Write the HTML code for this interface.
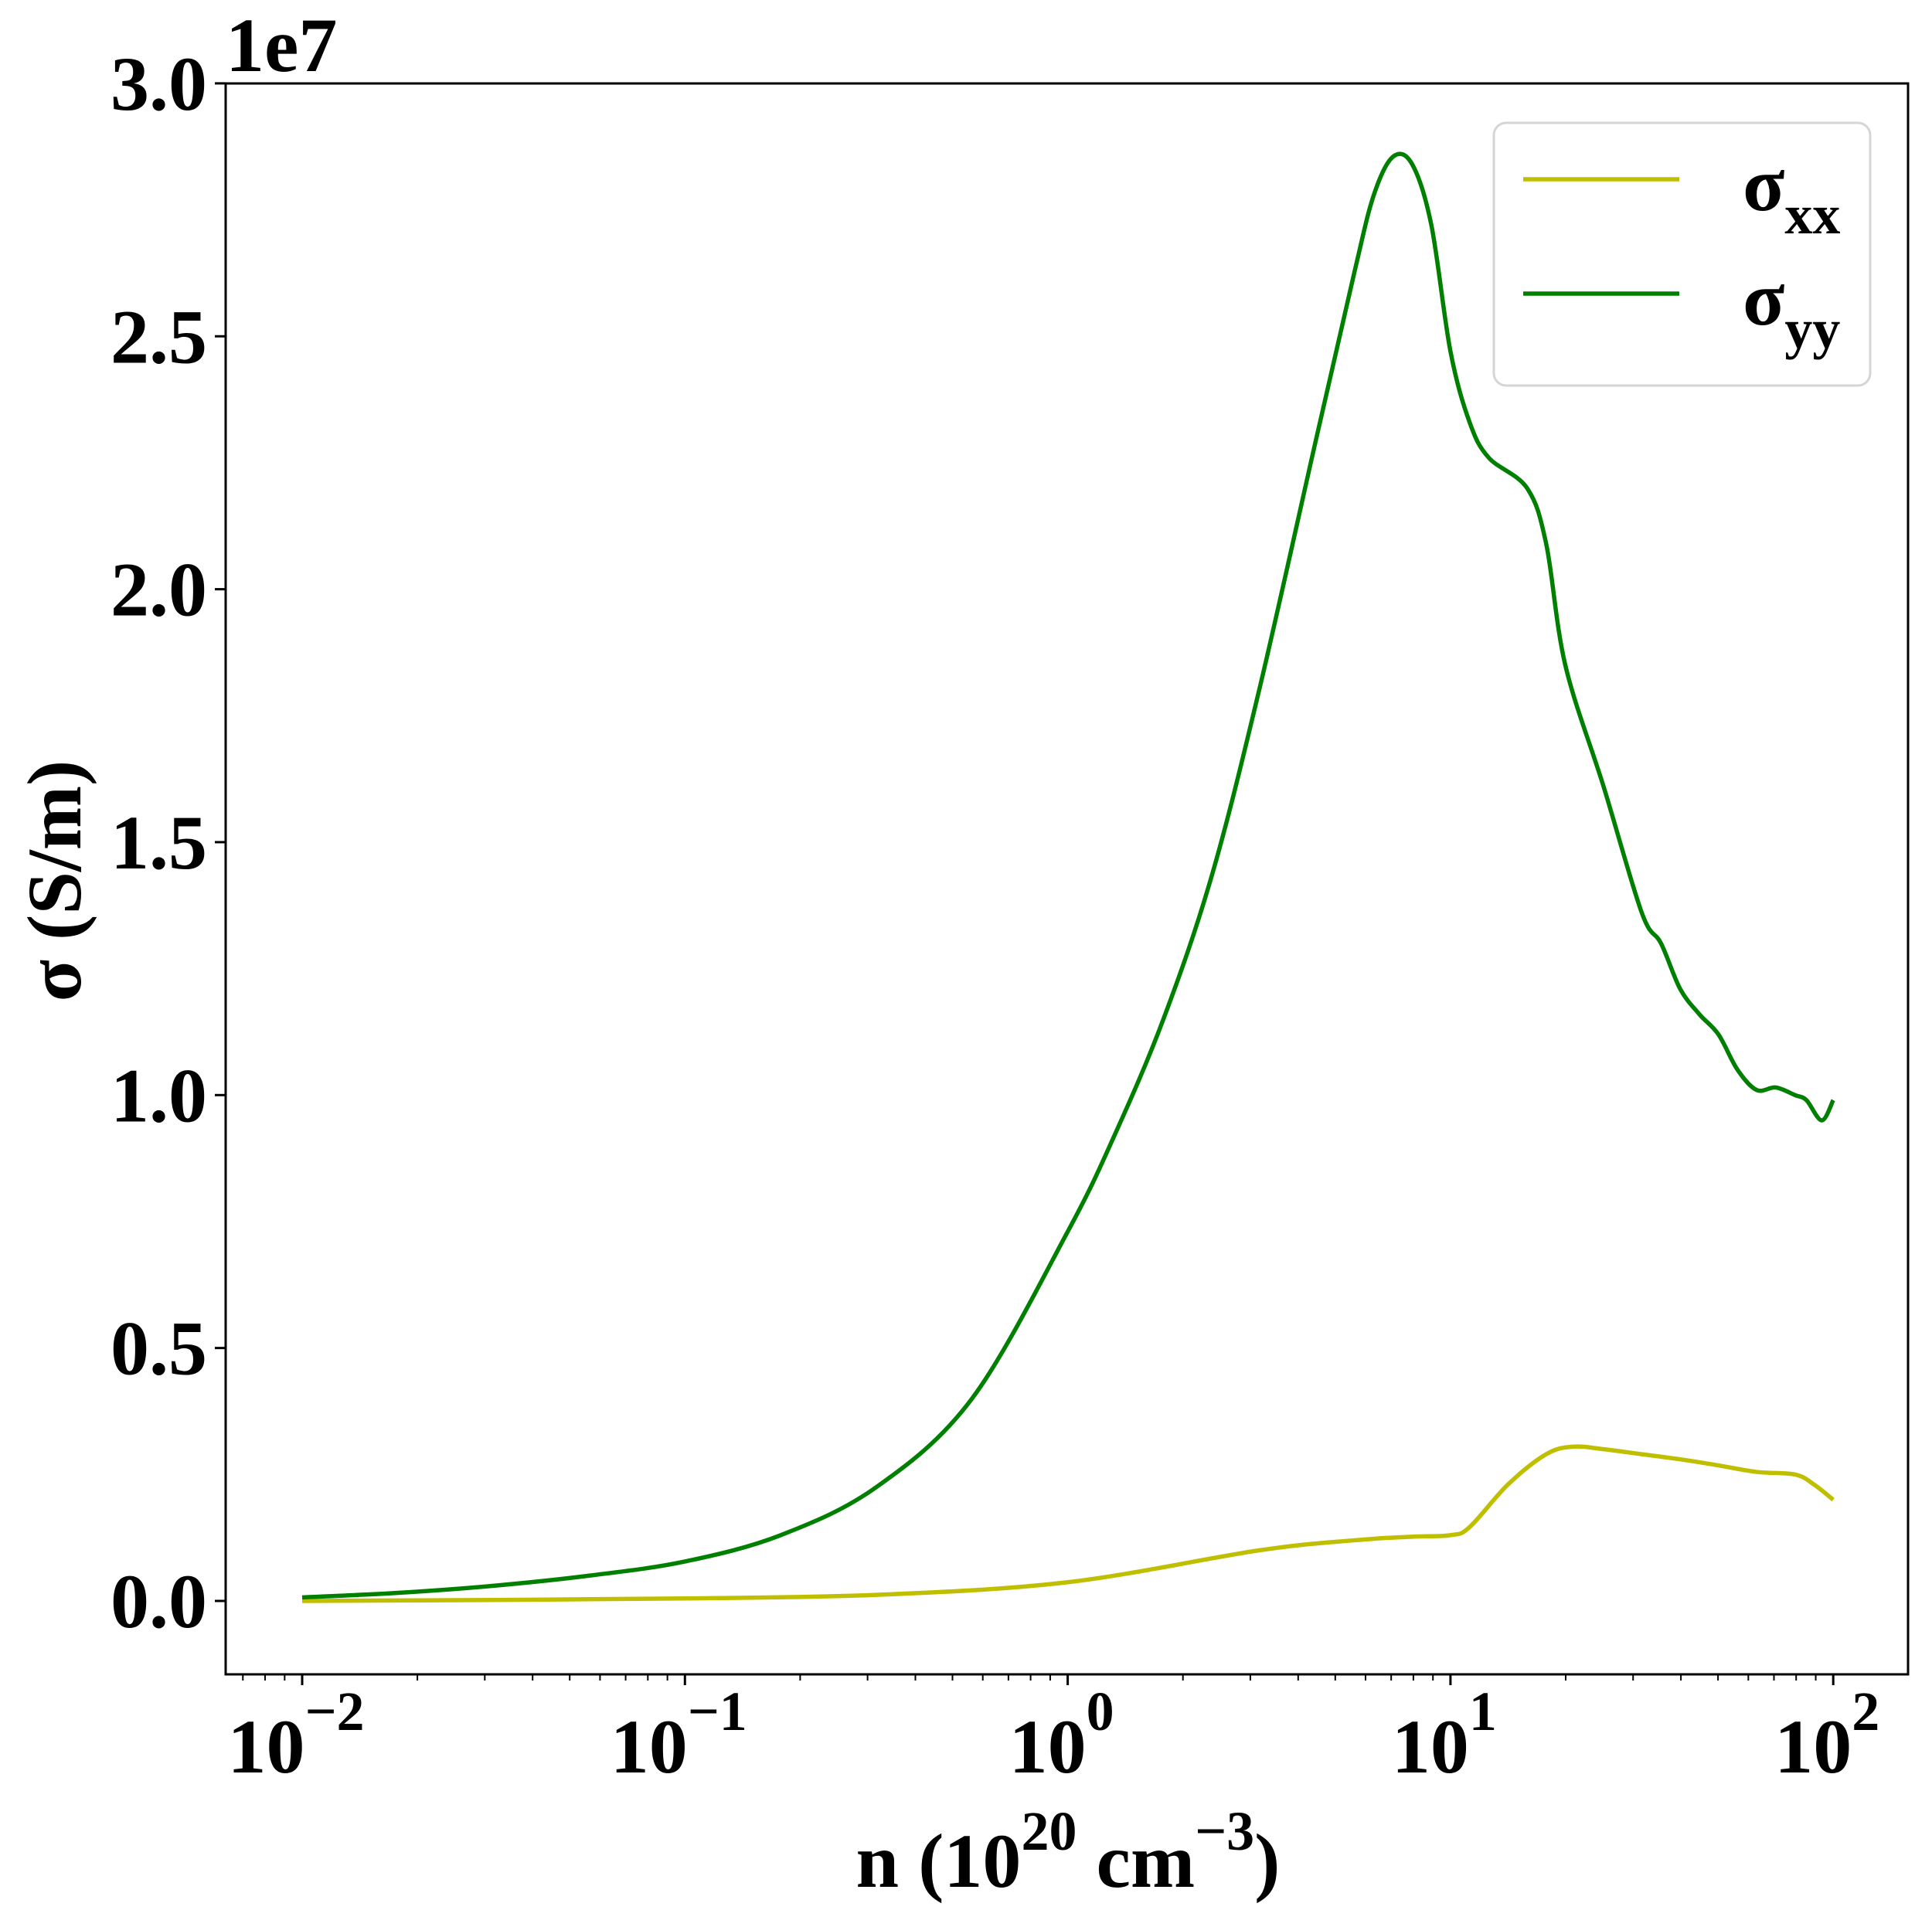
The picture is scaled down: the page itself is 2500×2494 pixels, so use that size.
<!DOCTYPE html>
<html><head><meta charset="utf-8"><style>
html,body{margin:0;padding:0;background:#fff;}
svg text{font-family:"Liberation Serif",serif;font-weight:bold;fill:#000;}
</style></head><body>
<svg id="chart" width="2500" height="2489" viewBox="0 0 2500 2489" xmlns="http://www.w3.org/2000/svg">
<g id="plot"></g>
</svg>
<script>
const logN = [-2,-1.75,-1.5,-1.25,-1,-0.75,-0.5,-0.25,0,0.125,0.25,0.375,0.5,0.65,0.75,0.8,0.85,0.9,0.95,1.0,1.05,1.1,1.2,1.25,1.3,1.4,1.5,1.55,1.6,1.65,1.7,1.75,1.8,1.85,1.9,1.93,1.97,2.0];
const sigmaYY = [0.007,0.016,0.03,0.05,0.078,0.13,0.225,0.40,0.73,0.925,1.15,1.43,1.80,2.30,2.63,2.78,2.855,2.84,2.72,2.47,2.33,2.26,2.20,2.09,1.85,1.61,1.36,1.30,1.21,1.16,1.12,1.05,1.01,1.015,1.0,0.99,0.95,0.99];
const logNxx = [-2,-1.5,-1,-0.5,0,0.5,0.75,0.9,1.0,1.05,1.15,1.25,1.32,1.4,1.5,1.6,1.7,1.8,1.9,1.95,2.0];
const sigmaXX = [0.0,0.002,0.005,0.012,0.037,0.10,0.12,0.127,0.13,0.146,0.23,0.29,0.305,0.30,0.29,0.28,0.268,0.255,0.25,0.23,0.20];
const yTicks = [0,0.5,1.0,1.5,2.0,2.5,3.0];
const yTickLabels = ["0.0","0.5","1.0","1.5","2.0","2.5","3.0"];
const xDecades = [-2,-1,0,1,2];

const L=292,R=2469,T=108,B=2167;
const X = l => 391 + (l+2)*495.3;
const Y = v => 2072 - v*654.7;
const NS="http://www.w3.org/2000/svg";
const svg=document.getElementById('chart');
function mk(tag,attrs,parent){const e=document.createElementNS(NS,tag);for(const k in attrs)e.setAttribute(k,attrs[k]);(parent||svg).appendChild(e);return e;}

function smooth(pts){let d=`M${pts[0][0]},${pts[0][1]}`;for(let i=0;i<pts.length-1;i++){const p0=pts[Math.max(0,i-1)],p1=pts[i],p2=pts[i+1],p3=pts[Math.min(pts.length-1,i+2)];const c1=[p1[0]+(p2[0]-p0[0])/6,p1[1]+(p2[1]-p0[1])/6],c2=[p2[0]-(p3[0]-p1[0])/6,p2[1]-(p3[1]-p1[1])/6];d+=` C${c1[0]},${c1[1]} ${c2[0]},${c2[1]} ${p2[0]},${p2[1]}`;}return d;}

const gx=mk('g',{});


const px=mk('path',{d:smooth(logNxx.map((l,i)=>[X(l),Y(sigmaXX[i])])),fill:'none',stroke:'#bfbf00','stroke-width':5.5,'stroke-linejoin':'round'},gx);


const gy=mk('g',{});


const py=mk('path',{d:smooth(logN.map((l,i)=>[X(l),Y(sigmaYY[i])])),fill:'none',stroke:'#008000','stroke-width':5.5,'stroke-linejoin':'round'},gy);



const frame=mk('rect',{x:L,y:T,width:R-L,height:B-T,fill:'none',stroke:'#000','stroke-width':3});



yTicks.forEach((v,i)=>{
  const t=mk('line',{x1:L-14,x2:L,y1:Y(v),y2:Y(v),stroke:'#000','stroke-width':3});
  
  
  const tx=mk('text',{x:L-24,y:Y(v)+34,'text-anchor':'end','font-size':100});
  tx.textContent=yTickLabels[i];
  
  
});
xDecades.forEach(d=>{
  const t=mk('line',{x1:X(d),x2:X(d),y1:B,y2:B+14,stroke:'#000','stroke-width':3});
  
  
  const tx=mk('text',{x:X(d)-8,y:2294,'text-anchor':'middle','font-size':100});
  tx.innerHTML=`10<tspan dy="-55" font-size="72">${d<0?'\u2212':''}${Math.abs(d)}</tspan>`;
  
  
});
for(let d=-3;d<=2;d++){for(let k=2;k<=9;k++){const l=d+Math.log10(k);const xx=X(l);if(xx<L||xx>R)continue;
  const t=mk('line',{x1:xx,x2:xx,y1:B,y2:B+8,stroke:'#000','stroke-width':2});
  
  }}

const off=mk('text',{x:292,y:92,'font-size':100});off.textContent='1e7';


const xl=mk('text',{x:1382,y:2442,'text-anchor':'middle','font-size':100});
xl.innerHTML='n (10<tspan dy="-48" font-size="72">20</tspan><tspan dy="48"> cm</tspan><tspan dy="-48" font-size="72">\u22123</tspan><tspan dy="48">)</tspan>';


const yl=mk('text',{x:0,y:0,'text-anchor':'middle','font-size':100,transform:'translate(104,1140) rotate(-90)'});
yl.textContent='\u03C3 (S/m)';



const lg=mk('g',{});


mk('rect',{x:1933,y:159,width:487,height:340,rx:16,fill:'#fff',stroke:'#d5d5d5','stroke-width':3},lg);
[['#bfbf00','xx',232],['#008000','yy',380]].forEach(([c,s,yy])=>{
  const e=mk('g',{},lg);
  
  
  mk('line',{x1:1971,x2:2173,y1:yy,y2:yy,stroke:c,'stroke-width':5.5},e);
  const t=mk('text',{x:2255,y:yy+40,'font-size':100},e);
  t.innerHTML=`\u03C3<tspan dy="30" font-size="72">${s}</tspan>`;
});
</script>
</body></html>
